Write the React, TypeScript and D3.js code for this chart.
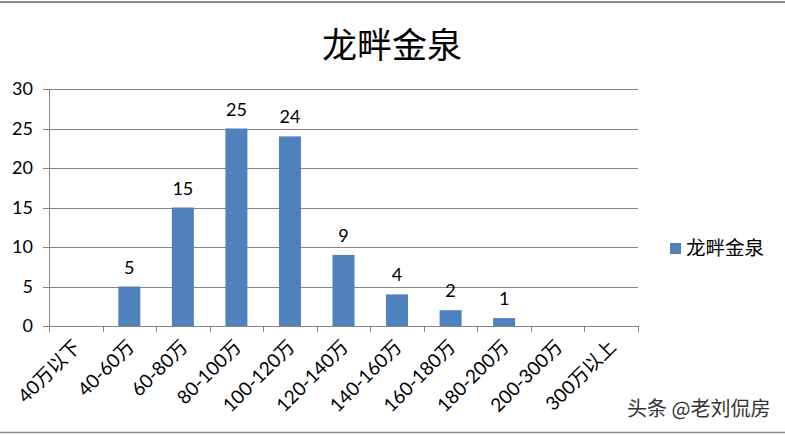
import React from "react";
import * as d3 from "d3";

const title = "龙畔金泉";
const categories = ["40万以下", "40-60万", "60-80万", "80-100万", "100-120万", "120-140万", "140-160万", "160-180万", "180-200万", "200-300万", "300万以上"];
const values = [0, 5, 15, 25, 24, 9, 4, 2, 1, 0, 0];
const yTicks = [0, 5, 10, 15, 20, 25, 30];
const watermark = "头条 @老刘侃房";

export default function App() {
  const W = 785, H = 435;
  const left = 49, right = 638, top = 89, bottom = 326;
  const x = d3.scaleBand<string>().domain(categories).range([left, right]).paddingInner(0).paddingOuter(0);
  const y = d3.scaleLinear().domain([0, 30]).range([bottom, top]);
  const bw = 22;
  const lab = "Lato, 'Noto Sans CJK SC', sans-serif";
  return (
    <svg width={W} height={H} style={{ position: "absolute", left: 0, top: 0, background: "#fff" }}>
      <rect x={0} y={0} width={W} height={H} fill="#fff" />
      <line x1={0} x2={W} y1={2} y2={2} stroke="#8c8c8c" strokeWidth={2} />
      <line x1={0} x2={W} y1={432.5} y2={432.5} stroke="#8c8c8c" strokeWidth={1.5} />
      <text x={392} y={58} textAnchor="middle" fontSize={35} fontFamily="'Noto Sans CJK SC', sans-serif" fill="#000">{title}</text>
      {yTicks.map(t => (
        <g key={t}>
          <line x1={left - 6} x2={right} y1={Math.round(y(t)) + 0.5} y2={Math.round(y(t)) + 0.5} stroke="#868686" strokeWidth={1} />
          <text x={33} y={y(t) + 6} textAnchor="end" fontSize={18} fontFamily={lab} fill="#000">{t}</text>
        </g>
      ))}
      <line x1={left + 0.5} x2={left + 0.5} y1={top} y2={bottom + 6} stroke="#868686" />
      {categories.map((c, i) => (
        <line key={"tk" + i} x1={Math.round(x(c)! + x.bandwidth()) + 0.5} x2={Math.round(x(c)! + x.bandwidth()) + 0.5} y1={bottom} y2={bottom + 6} stroke="#868686" />
      ))}
      {values.map((v, i) => {
        const cx = x(categories[i])! + x.bandwidth() / 2;
        return v > 0 ? (
          <g key={"b" + i}>
            <rect x={cx - bw / 2} y={y(v)} width={bw} height={bottom - y(v)} fill="#4F81BD" />
            <text x={cx} y={y(v) - 13} textAnchor="middle" fontSize={18} fontFamily={lab} fill="#000">{v}</text>
          </g>
        ) : null;
      })}
      {categories.map((c, i) => {
        const cx = x(c)! + x.bandwidth() / 2;
        return (
          <text key={"l" + i} transform={`translate(${cx + 6},${bottom + 22}) rotate(-45)`} textAnchor="end" fontSize={19} fontFamily={lab} fill="#000">{c}</text>
        );
      })}
      <rect x={670} y={243} width={11} height={11} fill="#4F81BD" />
      <text x={686} y={255} fontSize={19.5} fontFamily="'Noto Sans CJK SC', sans-serif" fill="#000">{title}</text>
      <text x={627} y={416} fontSize={20} fontFamily="'Noto Sans CJK SC', sans-serif" fill="#333">{watermark}</text>
    </svg>
  );
}
